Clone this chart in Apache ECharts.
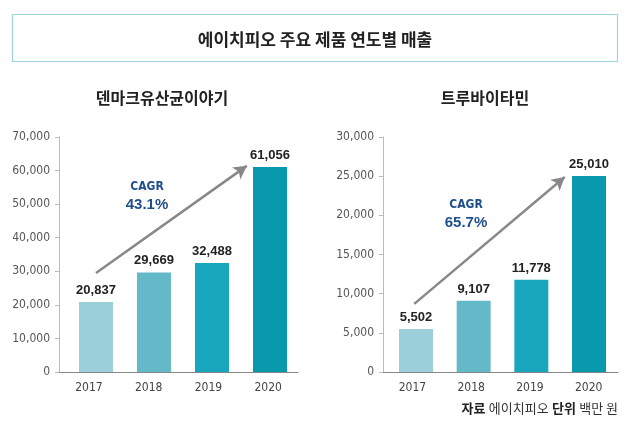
<!DOCTYPE html>
<html><head><meta charset="utf-8">
<script src="https://cdn.jsdelivr.net/npm/echarts@6/dist/echarts.min.js"></script>
<style>html,body{margin:0;padding:0;background:#fff}#c{width:630px;height:425px}</style>
</head><body><div id="c"></div>
<script>
const years = ['2017', '2018', '2019', '2020'];
const barIndex = [0, 1, 2, 3];
const leftName = '덴마크유산균이야기';
const rightName = '트루바이타민';
const leftValues = [20837, 29669, 32488, 61056];
const rightValues = [5502, 9107, 11778, 25010];
const leftCagr = '43.1%';
const rightCagr = '65.7%';
const barColors = ['#9bcfd9', '#64b9c9', '#17a6bb', '#0899ac'];
const leftArrow = [[0, 29500], [2.6, 61400]];
const rightArrow = [[-0.03, 8700], [2.58, 24900]];

const chart = echarts.init(document.getElementById('c'), null, {renderer: 'canvas'});
const font = '"DejaVu Sans Condensed", "Liberation Sans Narrow", "Liberation Sans", Arial, sans-serif';
const bfont = '"Liberation Sans", Arial, sans-serif';
const kfont = '"Noto Sans CJK KR", sans-serif';
const fmt = v => Number(v).toLocaleString('en-US');

function catAxis(g) {
  return {type: 'category', gridIndex: g, data: years, boundaryGap: true,
    axisLine: {show: true, onZero: false, lineStyle: {color: '#888', width: 1}},
    axisTick: {show: false},
    axisLabel: {color: '#444', fontSize: 12, fontFamily: font, margin: 10},
    splitLine: {show: false}};
}
function hiddenX(g, min, max) {
  return {type: 'value', gridIndex: g, min: min, max: max, show: false, splitLine: {show: false}};
}
function yAx(g, max, interval) {
  return {type: 'value', gridIndex: g, min: 0, max: max, interval: interval,
    axisLine: {show: true, onZero: false, lineStyle: {color: '#bbb'}},
    axisTick: {show: true, length: 4, lineStyle: {color: '#bbb'}},
    axisLabel: {color: '#555', fontSize: 12, fontFamily: font, margin: 9, formatter: fmt},
    splitLine: {show: false}};
}
function barSeries(xi, yi, values, arrow) {
  return {type: 'bar', xAxisIndex: xi, yAxisIndex: yi, barWidth: 34,
    data: values.map((v, i) => ({value: [barIndex[i], v], itemStyle: {color: barColors[i]}})),
    label: {show: true, position: 'top', distance: 5, color: '#222', fontSize: 13, fontWeight: 'bold',
      fontFamily: bfont, formatter: p => fmt(p.value[1])},
    markLine: {silent: true, symbol: ['none', 'arrow'], symbolSize: [11, 13],
      lineStyle: {color: '#888', width: 2.5, type: 'solid'}, label: {show: false},
      emphasis: {disabled: true},
      data: [[{coord: arrow[0]}, {coord: arrow[1]}]]},
    animation: false};
}

chart.setOption({
  animation: false,
  title: [
    {text: '에이치피오 주요 제품 연도별 매출', left: 'center', top: 26,
      textStyle: {fontFamily: kfont, fontSize: 17, fontWeight: 'bold', color: '#222'}},
    {text: leftName, left: 157, textAlign: 'center', top: 85,
      textStyle: {fontFamily: kfont, fontSize: 16, fontWeight: 'bold', color: '#222'}},
    {text: rightName, left: 480, textAlign: 'center', top: 85,
      textStyle: {fontFamily: kfont, fontSize: 16, fontWeight: 'bold', color: '#222'}}
  ],
  graphic: [
    {type: 'rect', shape: {x: 12.5, y: 14.5, width: 605, height: 47},
      style: {fill: 'none', stroke: '#9ed3dc', lineWidth: 1.2}},
    {type: 'text', x: 147, y: 187, style: {text: 'CAGR', fill: '#1f4e8c', font: 'bold 12px ' + font, align: 'center', verticalAlign: 'middle'}},
    {type: 'text', x: 147, y: 205, style: {text: leftCagr, fill: '#1f4e8c', font: 'bold 15px ' + bfont, align: 'center', verticalAlign: 'middle'}},
    {type: 'text', x: 466, y: 205, style: {text: 'CAGR', fill: '#1f4e8c', font: 'bold 12px ' + font, align: 'center', verticalAlign: 'middle'}},
    {type: 'text', x: 466, y: 223, style: {text: rightCagr, fill: '#1f4e8c', font: 'bold 15px ' + bfont, align: 'center', verticalAlign: 'middle'}},
    {type: 'text', right: 12, top: 402, style: {
      text: '{b|자료} {n|에이치피오} {b|단위} {n|백만 원}',
      rich: {b: {fontFamily: kfont, fontWeight: 'bold', fontSize: 13, fill: '#222'},
             n: {fontFamily: kfont, fontSize: 13, fill: '#333'}}}}
  ],
  grid: [
    {left: 59, top: 137, width: 239, height: 235, containLabel: false},
    {left: 383, top: 137, width: 235, height: 235, containLabel: false}
  ],
  xAxis: [catAxis(0), hiddenX(0, -0.638, 3.483), catAxis(1), hiddenX(1, -0.572, 3.503)],
  yAxis: [yAx(0, 70000, 10000), yAx(1, 30000, 5000)],
  series: [barSeries(1, 0, leftValues, leftArrow), barSeries(3, 1, rightValues, rightArrow)]
});
</script></body></html>
